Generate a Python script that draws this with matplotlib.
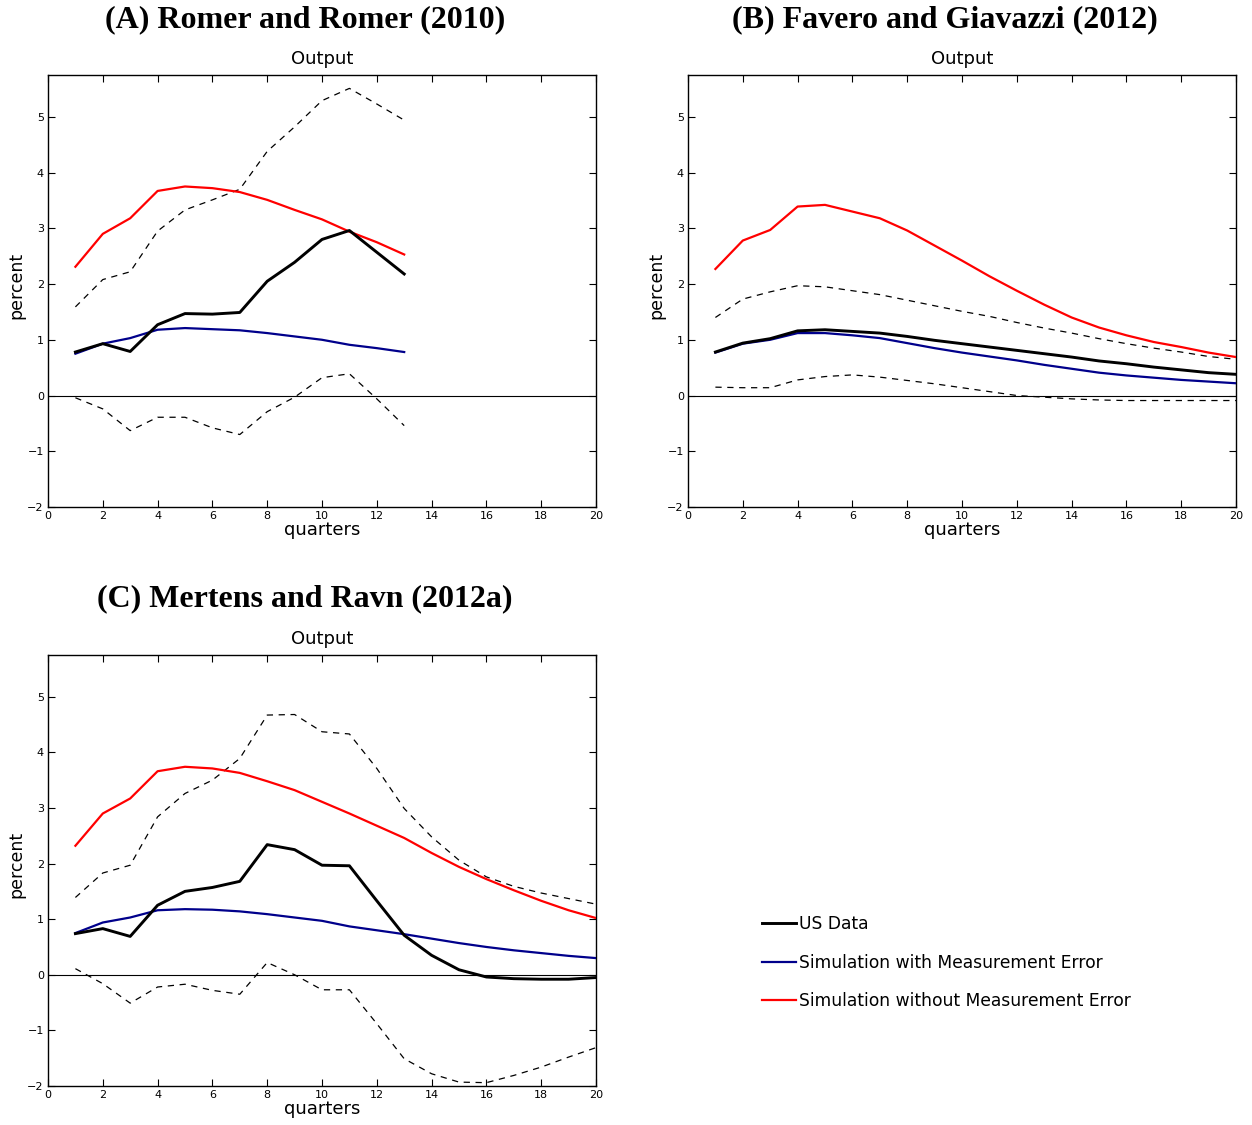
import matplotlib
matplotlib.use("Agg")
import matplotlib.pyplot as plt

# ---- Output responses (percent) by quarter ----
q_a = list(range(1, 14))
q_bc = list(range(1, 21))

# (A) Romer and Romer (2010)
a_data = [0.78, 0.93, 0.79, 1.27, 1.47, 1.46, 1.49, 2.05, 2.39, 2.80, 2.96, 2.57, 2.18]
a_upper = [1.59, 2.08, 2.22, 2.95, 3.33, 3.51, 3.70, 4.38, 4.82, 5.29, 5.51, 5.23, 4.94]
a_lower = [-0.04, -0.24, -0.63, -0.39, -0.39, -0.58, -0.70, -0.29, -0.03, 0.32, 0.39, -0.06, -0.54]
a_with_me = [0.75, 0.93, 1.03, 1.18, 1.21, 1.19, 1.17, 1.12, 1.06, 1.00, 0.91, 0.85, 0.78]
a_without_me = [2.31, 2.90, 3.18, 3.67, 3.75, 3.72, 3.65, 3.51, 3.33, 3.16, 2.94, 2.75, 2.53]

# (B) Favero and Giavazzi (2012)
b_data = [0.78, 0.94, 1.02, 1.16, 1.18, 1.15, 1.12, 1.06, 0.99, 0.93,
          0.87, 0.81, 0.75, 0.69, 0.62, 0.57, 0.51, 0.46, 0.41, 0.38]
b_upper = [1.40, 1.73, 1.86, 1.97, 1.95, 1.88, 1.81, 1.71, 1.61, 1.51,
           1.42, 1.31, 1.21, 1.12, 1.02, 0.93, 0.85, 0.78, 0.70, 0.65]
b_lower = [0.15, 0.14, 0.14, 0.28, 0.34, 0.37, 0.33, 0.27, 0.21, 0.14,
           0.07, 0.00, -0.03, -0.06, -0.08, -0.09, -0.09, -0.09, -0.09, -0.09]
b_with_me = [0.77, 0.93, 1.00, 1.12, 1.12, 1.08, 1.03, 0.94, 0.85, 0.77,
             0.70, 0.63, 0.55, 0.48, 0.41, 0.36, 0.32, 0.28, 0.25, 0.22]
b_without_me = [2.27, 2.78, 2.97, 3.39, 3.42, 3.30, 3.18, 2.96, 2.69, 2.42,
                2.14, 1.88, 1.63, 1.40, 1.22, 1.08, 0.96, 0.87, 0.77, 0.69]

# (C) Mertens and Ravn (2012a)
c_data = [0.74, 0.83, 0.69, 1.25, 1.50, 1.57, 1.68, 2.34, 2.25, 1.97,
          1.96, 1.33, 0.71, 0.35, 0.09, -0.04, -0.07, -0.08, -0.08, -0.05]
c_upper = [1.39, 1.83, 1.97, 2.84, 3.26, 3.50, 3.89, 4.67, 4.68, 4.37,
           4.33, 3.71, 2.99, 2.48, 2.06, 1.76, 1.59, 1.47, 1.37, 1.27]
c_lower = [0.11, -0.16, -0.51, -0.22, -0.17, -0.28, -0.35, 0.22, 0.00, -0.27,
           -0.27, -0.88, -1.51, -1.78, -1.93, -1.94, -1.81, -1.66, -1.48, -1.31]
c_with_me = [0.75, 0.94, 1.03, 1.16, 1.18, 1.17, 1.14, 1.09, 1.03, 0.97,
             0.87, 0.80, 0.73, 0.65, 0.57, 0.50, 0.44, 0.39, 0.34, 0.30]
c_without_me = [2.32, 2.90, 3.17, 3.66, 3.74, 3.71, 3.63, 3.48, 3.32, 3.11,
                2.90, 2.68, 2.46, 2.19, 1.94, 1.72, 1.52, 1.33, 1.16, 1.02]

titles = ["(A) Romer and Romer (2010)", "(B) Favero and Giavazzi (2012)",
          "(C) Mertens and Ravn (2012a)"]
legend_labels = ["US Data", "Simulation with Measurement Error",
                 "Simulation without Measurement Error"]
x_ticks = list(range(0, 21, 2))
y_ticks = list(range(-2, 6))

BLUE = "#00008b"
RED = "#ff0000"
SANS = ["DejaVu Sans"]

W, H = 1252, 1125
fig = plt.figure(figsize=(W / 100, H / 100), dpi=100)

def rect(l, r, t, b):
    return [l / W, 1 - b / H, (r - l) / W, (b - t) / H]

# axes boxes (pixel edges) and the vertical centre of each panel heading
layout = [((48, 596, 75, 507), 20), ((688, 1236, 75, 507), 20), ((48, 596, 655, 1086), 599)]
panels = [
    (q_a, a_data, a_upper, a_lower, a_with_me, a_without_me),
    (q_bc, b_data, b_upper, b_lower, b_with_me, b_without_me),
    (q_bc, c_data, c_upper, c_lower, c_with_me, c_without_me),
]

handles = None
for ((l, r, t, b), head_y), title, (q, data, up, lo, wme, wome) in zip(layout, titles, panels):
    ax = fig.add_axes(rect(l, r, t, b))
    ax.axhline(0, color="black", lw=0.8, zorder=1)
    ax.plot(q, up, color="black", lw=0.9, ls=(0, (5, 4.5)), zorder=2)
    ax.plot(q, lo, color="black", lw=0.9, ls=(0, (5, 4.5)), zorder=2)
    l_wme, = ax.plot(q, wme, color=BLUE, lw=1.6, zorder=3)
    l_wome, = ax.plot(q, wome, color=RED, lw=1.6, zorder=3)
    l_data, = ax.plot(q, data, color="black", lw=2.1, zorder=4)
    handles = [l_data, l_wme, l_wome]

    ax.set_xlim(0, 20)
    ax.set_ylim(-2, 5.75)
    ax.set_xticks(x_ticks)
    ax.set_yticks(y_ticks)
    ax.set_yticklabels(["\u2212%d" % -v if v < 0 else str(v) for v in y_ticks])
    ax.tick_params(direction="in", length=5, width=0.8, top=True, right=True,
                   labelsize=8, pad=3)
    for s in ax.spines.values():
        s.set_linewidth(1.0)
    ax.set_xlabel("quarters", fontsize=13, family=SANS, labelpad=0)
    ax.set_title("Output", fontsize=13, family=SANS, pad=8)
    fig.text((l - 32) / W, 1 - ((t + b) / 2 - 6) / H, "percent", rotation=90,
             ha="center", va="center", fontsize=12.5, family=SANS)
    fig.text(((l + r) / 2 - 17) / W, 1 - head_y / H, title, ha="center", va="center",
             fontsize=23, fontweight="bold", family=["Liberation Serif"])

fig.legend(handles, legend_labels, loc="upper left",
           bbox_to_anchor=(762 / W, 1 - 915 / H), frameon=False,
           handlelength=2.0, handletextpad=0.15,
           labelspacing=1.2, borderpad=0, borderaxespad=0,
           prop={"family": SANS, "size": 12.3})

fig.savefig("out.png", dpi=100)
